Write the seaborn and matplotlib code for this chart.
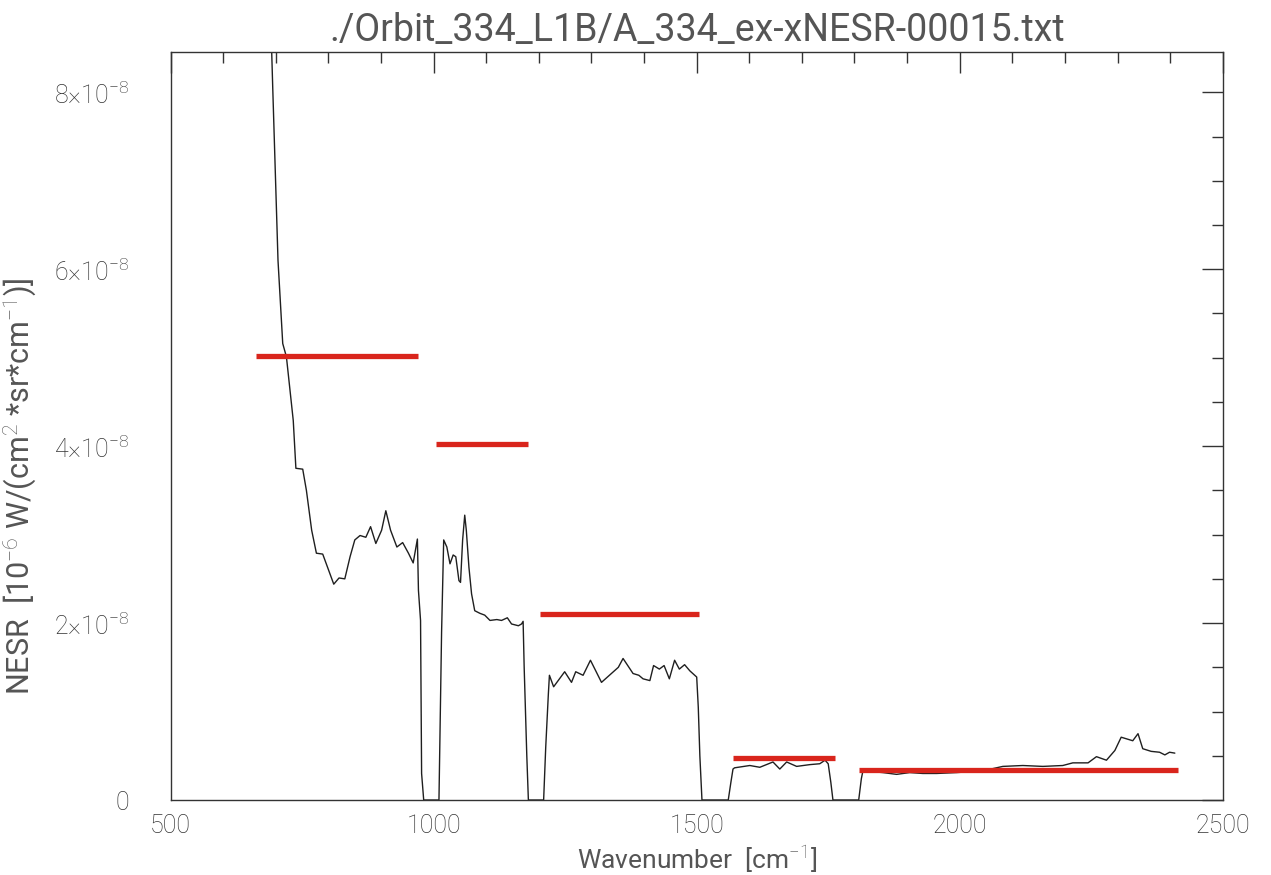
import numpy as np
import pandas as pd
import matplotlib
matplotlib.use("Agg")
import matplotlib.pyplot as plt
import seaborn as sns
from matplotlib.ticker import MultipleLocator, FixedLocator, FixedFormatter

# NESR spectrum (wavenumber in cm-1, NESR in units of 1e-8)
wavenumber = [686, 692, 694, 704, 713, 720, 733, 738, 751, 758, 768, 777, 789, 800,
              810, 820, 831, 841, 850, 860, 871, 880, 890, 901, 909, 918, 930, 941,
              952, 961, 969, 971, 975, 977, 981,
              1010, 1015, 1019, 1025, 1031, 1037, 1042, 1048, 1051, 1055, 1059, 1062,
              1067, 1072, 1078, 1088, 1097, 1107, 1120, 1129, 1140, 1148, 1161, 1167,
              1170, 1172, 1177, 1180,
              1209, 1213, 1218, 1220, 1228, 1249, 1262, 1270, 1284, 1298, 1319, 1338,
              1351, 1360, 1379, 1390, 1398, 1411, 1418, 1429, 1438, 1448, 1458, 1467,
              1477, 1487, 1500, 1503, 1506, 1510,
              1560, 1565, 1569, 1572, 1601, 1620, 1645, 1658, 1671, 1690, 1715, 1734,
              1744, 1750, 1755, 1759,
              1808, 1813, 1816, 1854, 1880, 1905, 1930, 1956, 1994, 2044, 2082, 2120,
              2158, 2196, 2215, 2244, 2260, 2279, 2295, 2307, 2329, 2339, 2348, 2364,
              2380, 2390, 2399, 2409]
nesr_e8 = [10.5, 8.46, 8.05, 6.10, 5.16, 5.01, 4.29, 3.75, 3.74, 3.50, 3.05, 2.79, 2.78, 2.60,
           2.44, 2.51, 2.50, 2.75, 2.94, 2.99, 2.97, 3.09, 2.90, 3.05, 3.27, 3.05, 2.86, 2.91,
           2.79, 2.68, 2.95, 2.37, 2.03, 0.30, 0.0,
           0.0, 1.90, 2.94, 2.86, 2.67, 2.77, 2.75, 2.48, 2.46, 2.94, 3.22, 3.05,
           2.63, 2.33, 2.14, 2.11, 2.09, 2.03, 2.04, 2.03, 2.06, 1.99, 1.97, 1.99,
           2.02, 1.50, 0.50, 0.0,
           0.0, 0.60, 1.20, 1.41, 1.28, 1.45, 1.33, 1.45, 1.41, 1.58, 1.33, 1.43,
           1.50, 1.60, 1.43, 1.41, 1.37, 1.35, 1.52, 1.48, 1.52, 1.37, 1.58, 1.48,
           1.53, 1.46, 1.39, 1.05, 0.50, 0.0,
           0.0, 0.20, 0.35, 0.364, 0.39, 0.37, 0.43, 0.35, 0.43, 0.38, 0.40, 0.41,
           0.45, 0.41, 0.20, 0.0,
           0.0, 0.24, 0.33, 0.31, 0.29, 0.31, 0.30, 0.30, 0.31, 0.33, 0.38, 0.39,
           0.38, 0.39, 0.42, 0.42, 0.49, 0.45, 0.56, 0.71, 0.67, 0.75, 0.58, 0.55,
           0.54, 0.51, 0.54, 0.53]

# red requirement levels per band
req_level_e8 = [5.02, 4.03, 2.10, 0.477, 0.34]
req_start = [663, 1005, 1202, 1569, 1808]
req_end = [970, 1180, 1505, 1762, 2415]

ytick_vals = [0, 2e-8, 4e-8, 6e-8, 8e-8]
ytick_labels = ["0", r"$2{\times}10^{-8}$", r"$4{\times}10^{-8}$",
                r"$6{\times}10^{-8}$", r"$8{\times}10^{-8}$"]

df = pd.DataFrame({"wn": wavenumber, "nesr": np.array(nesr_e8) * 1e-8})

sns.set_theme(style="white")
plt.rcParams["font.family"] = ["Roboto", "DejaVu Sans"]
plt.rcParams["font.weight"] = "light"
plt.rcParams["mathtext.fontset"] = "custom"
plt.rcParams["mathtext.rm"] = "Roboto:light"
plt.rcParams["mathtext.it"] = "Roboto:light"

txt = "#555555"
ticktxt = "#333333"
axc = "#333333"

fig = plt.figure(figsize=(12.71, 8.75), dpi=100)
ax = fig.add_axes([0.1343, 0.0857, 0.962 - 0.1343, 0.941 - 0.0857])

sns.lineplot(data=df, x="wn", y="nesr", ax=ax, color="#1f1f1f", linewidth=1.0,
             estimator=None, sort=False)
ax.hlines(np.array(req_level_e8) * 1e-8, req_start, req_end, color="#d9251c",
          linewidth=3.8, zorder=3)

ax.set_xlim(500, 2500)
ax.set_ylim(0, 8.46e-8)
ax.xaxis.set_major_locator(MultipleLocator(500))
ax.xaxis.set_minor_locator(MultipleLocator(100))
ax.yaxis.set_major_locator(FixedLocator(ytick_vals))
ax.yaxis.set_major_formatter(FixedFormatter(ytick_labels))
ax.yaxis.set_minor_locator(MultipleLocator(0.5e-8))

ax.tick_params(which="both", direction="in", top=True, right=True, color=axc,
               labelcolor=ticktxt, labelsize=18)
ax.tick_params(which="major", length=15, width=1.0)
ax.tick_params(which="minor", length=8, width=1.0)
ax.tick_params(axis="x", which="major", pad=10)
ax.tick_params(axis="y", which="major", pad=30)
for s in ax.spines.values():
    s.set_color(axc)
    s.set_linewidth(1.0)

ax.set_title("./Orbit_334_L1B/A_334_ex-xNESR-00015.txt", fontsize=27, color=txt,
             fontweight="normal", pad=8)
ax.set_xlabel(r"Wavenumber  [cm$^{-1}$]", fontsize=19, color=txt, fontweight="normal",
              labelpad=4)
ax.set_ylabel(r"NESR  [10$^{-6}$ W/(cm$^{2}$ *sr*cm$^{-1}$)]", fontsize=22, color=txt,
              fontweight="normal")
ax.yaxis.set_label_coords(-0.125, 0.42)

fig.savefig("out.png", dpi=100)
